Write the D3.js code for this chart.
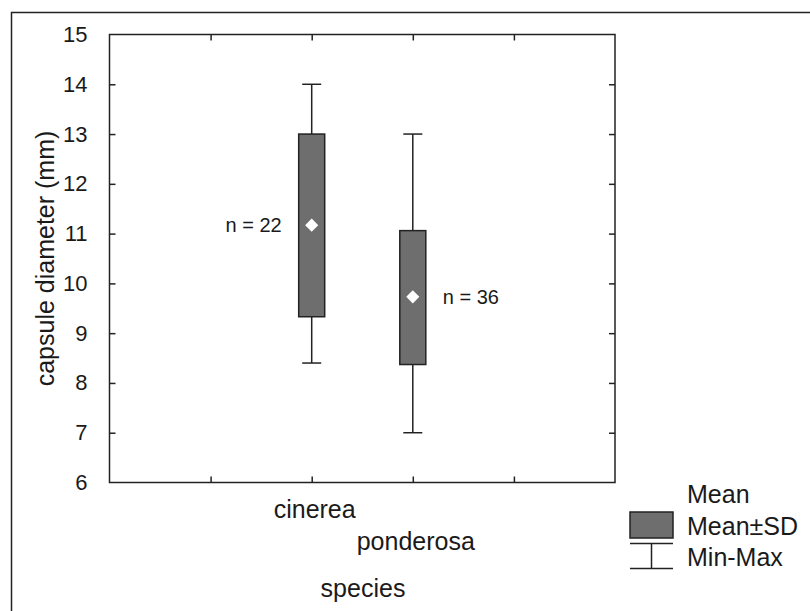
<!DOCTYPE html>
<html>
<head>
<meta charset="utf-8">
<script src="https://cdn.jsdelivr.net/npm/d3@7"></script>
<style>
body { margin: 0; background: #fff; }
text { font-family: Arial, "Liberation Sans", Helvetica, sans-serif; fill: #1a1a1a; }
</style>
</head>
<body>
<script>
var width = 810;
var height = 611;

// data
var species = ["cinerea", "ponderosa"];
var sampleN = [22, 36];
var means = [11.17, 9.73];
var sdLow = [9.33, 8.37];
var sdHigh = [13.0, 11.06];
var minVals = [8.4, 7.0];
var maxVals = [14.0, 13.0];
var yTicks = [6, 7, 8, 9, 10, 11, 12, 13, 14, 15];
var xTicks = [1, 2, 3, 4];
var legendLabels = ["Mean", "Mean\u00b1SD", "Min-Max"];

var padding = {top: 34.5, right: 195, bottom: 128.5, left: 109.5};
var plotW = width - padding.left - padding.right;
var plotH = height - padding.top - padding.bottom;

var boxWidth = 26;
var capWidth = 19;

var xScale = d3.scaleLinear()
.domain([0, 5])
.range([padding.left, padding.left + plotW]);

var yScale = d3.scaleLinear()
.domain([6, 15])
.range([padding.top + plotH, padding.top]);

var svg = d3.select("body")
.append("svg")
.attr("width", width)
.attr("height", height);

// outer frame
svg.append("rect")
.attr("x", 11.5)
.attr("y", 12.5)
.attr("width", width)
.attr("height", height)
.attr("fill", "none")
.attr("stroke", "#222")
.attr("stroke-width", 1.5);

// axes, ticks pointing inward
svg.append("g")
.attr("class", "axis")
.attr("transform", "translate(" + padding.left + ",0)")
.call(d3.axisRight(yScale).tickValues(yTicks.slice(1, -1)).tickSize(6).tickFormat(""))
.call(function(g){ g.select(".domain").remove(); });

svg.append("g")
.attr("class", "axis")
.attr("transform", "translate(" + padding.left + ",0)")
.call(d3.axisLeft(yScale).tickValues(yTicks).tickSize(0).tickPadding(22).tickFormat(d3.format("d")))
.call(function(g){ g.select(".domain").remove(); g.selectAll("text").attr("font-size", "22px").attr("fill", "#1a1a1a"); });

svg.append("g")
.attr("class", "axis")
.attr("transform", "translate(" + (padding.left + plotW) + ",0)")
.call(d3.axisLeft(yScale).tickValues(yTicks.slice(1, -1)).tickSize(6).tickFormat(""))
.call(function(g){ g.select(".domain").remove(); });

svg.append("g")
.attr("class", "axis")
.attr("transform", "translate(0," + (padding.top + plotH) + ")")
.call(d3.axisTop(xScale).tickValues(xTicks).tickSize(6).tickFormat(""))
.call(function(g){ g.select(".domain").remove(); });

svg.append("g")
.attr("class", "axis")
.attr("transform", "translate(0," + padding.top + ")")
.call(d3.axisBottom(xScale).tickValues(xTicks).tickSize(6).tickFormat(""))
.call(function(g){ g.select(".domain").remove(); });

svg.selectAll(".axis line")
.attr("stroke", "#222")
.attr("stroke-width", 1.5);

svg.append("rect")
.attr("x", padding.left)
.attr("y", padding.top)
.attr("width", plotW)
.attr("height", plotH)
.attr("fill", "none")
.attr("stroke", "#222")
.attr("stroke-width", 1.5);

// boxes
var idx = d3.range(species.length);
var xPos = function(i){ return xScale(i + 2); };

svg.selectAll(".whisker")
.data(idx)
.enter()
.append("line")
.attr("class", "whisker")
.attr("x1", xPos)
.attr("x2", xPos)
.attr("y1", function(i){ return yScale(maxVals[i]); })
.attr("y2", function(i){ return yScale(minVals[i]); })
.attr("stroke", "#222")
.attr("stroke-width", 1.5);

svg.selectAll(".capTop")
.data(idx)
.enter()
.append("line")
.attr("x1", function(i){ return xPos(i) - capWidth / 2; })
.attr("x2", function(i){ return xPos(i) + capWidth / 2; })
.attr("y1", function(i){ return yScale(maxVals[i]); })
.attr("y2", function(i){ return yScale(maxVals[i]); })
.attr("stroke", "#222")
.attr("stroke-width", 1.5);

svg.selectAll(".capBottom")
.data(idx)
.enter()
.append("line")
.attr("x1", function(i){ return xPos(i) - capWidth / 2; })
.attr("x2", function(i){ return xPos(i) + capWidth / 2; })
.attr("y1", function(i){ return yScale(minVals[i]); })
.attr("y2", function(i){ return yScale(minVals[i]); })
.attr("stroke", "#222")
.attr("stroke-width", 1.5);

svg.selectAll(".box")
.data(idx)
.enter()
.append("rect")
.attr("class", "box")
.attr("x", function(i){ return xPos(i) - boxWidth / 2; })
.attr("y", function(i){ return yScale(sdHigh[i]); })
.attr("width", boxWidth)
.attr("height", function(i){ return yScale(sdLow[i]) - yScale(sdHigh[i]); })
.attr("fill", "#6e6e6e")
.attr("stroke", "#222")
.attr("stroke-width", 1.5);

var diamond = d3.symbol().type(d3.symbolDiamond2).size(110);

svg.selectAll(".mean")
.data(idx)
.enter()
.append("path")
.attr("class", "mean")
.attr("d", diamond)
.attr("transform", function(i){ return "translate(" + xPos(i) + "," + yScale(means[i]) + ")"; })
.attr("fill", "#fff");

// n labels: first on left, second on right
svg.selectAll(".nlabel")
.data(idx)
.enter()
.append("text")
.attr("font-size", "20px")
.attr("text-anchor", function(i){ return i == 0 ? "end" : "start"; })
.attr("x", function(i){ return i == 0 ? xPos(i) - 30 : xPos(i) + 30; })
.attr("y", function(i){ return yScale(means[i]); })
.attr("dy", "0.35em")
.text(function(i){ return "n = " + sampleN[i]; });

// staggered category labels
svg.selectAll(".catlabel")
.data(idx)
.enter()
.append("text")
.attr("font-size", "25px")
.attr("text-anchor", "middle")
.attr("x", function(i){ return xPos(i) + 3; })
.attr("y", function(i){ return 518 + i * 32; })
.text(function(i){ return species[i]; });

svg.append("text")
.attr("font-size", "25px")
.attr("text-anchor", "middle")
.attr("x", 363)
.attr("y", 597)
.text("species");

svg.append("text")
.attr("font-size", "25px")
.attr("text-anchor", "middle")
.attr("transform", "translate(54," + (padding.top + plotH / 2) + ") rotate(-90)")
.text("capsule diameter (mm)");

// legend
var legend = svg.append("g").attr("transform", "translate(630,0)");

legend.selectAll("text")
.data(legendLabels)
.enter()
.append("text")
.attr("font-size", "25px")
.attr("x", 57)
.attr("y", function(d, i){ return 503 + i * 31.5; })
.text(function(d){ return d; });

legend.append("rect")
.attr("x", 0)
.attr("y", 512)
.attr("width", 43)
.attr("height", 26)
.attr("fill", "#6e6e6e")
.attr("stroke", "#222")
.attr("stroke-width", 1.5);

legend.append("path")
.attr("d", "M0,543.5H43M21.5,543.5V568.5M0,568.5H43")
.attr("fill", "none")
.attr("stroke", "#222")
.attr("stroke-width", 1.5);
</script>
</body>
</html>
